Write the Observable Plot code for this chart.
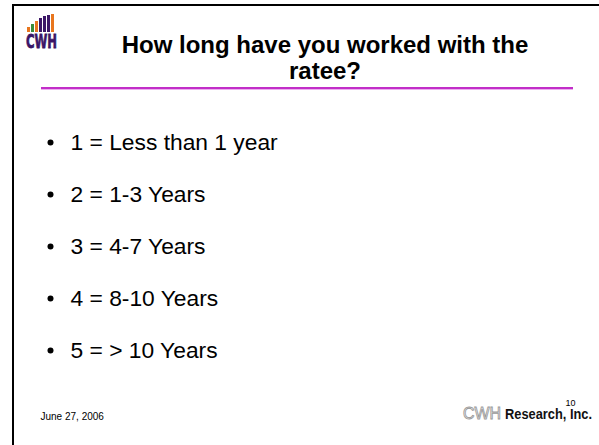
<!DOCTYPE html>
<html>
<head>
<meta charset="utf-8">
<script src="https://cdn.jsdelivr.net/npm/d3@7"></script>
<script src="https://cdn.jsdelivr.net/npm/@observablehq/plot@0.6"></script>
<style>
  html, body { margin: 0; padding: 0; background: #fff; }
  #slide { position: relative; width: 599px; height: 445px; overflow: hidden; background: #fff;
           font-family: Arial, "Liberation Sans", Helvetica, sans-serif; }
  #frame { position: absolute; left: 12px; top: 4px; width: 700px; height: 600px;
           border-top: 2px solid #000; border-left: 2px solid #000; box-sizing: border-box; }
  #underline { position: absolute; left: 41px; top: 86.5px; width: 532px; height: 2px; background: #c22ec8; }
  #underline2 { position: absolute; left: 41px; top: 88.5px; width: 532px; height: 1px; background: #ecaef0; }
  #chart { position: absolute; left: 0; top: 0; }
  #logo { position: absolute; left: 25px; top: 14px; }
  #logoText { position: absolute; left: 24px; top: 30px; }
  #brand { position: absolute; left: 460px; top: 403px; }
  svg { overflow: visible; }
</style>
</head>
<body>
<div id="slide">
  <div id="frame"></div>
  <div id="underline"></div>
  <div id="underline2"></div>
  <div id="chart"></div>
  <div id="logo"></div>
  <div id="logoText"></div>
  <div id="brand"></div>
</div>
<script>
// ---- data ----
const titleLines = ["How long have you worked with the", "ratee?"];
const bullets = [
  "1 = Less than 1 year",
  "2 = 1-3 Years",
  "3 = 4-7 Years",
  "4 = 8-10 Years",
  "5 = > 10 Years"
];
const footerDate = "June 27, 2006";
const slideNumber = "10";
const brandMark = "CWH";
const brandName = "Research, Inc.";
const logoLetters = "CWH";
const logoBarHeights = [5, 8, 11, 14, 16, 17, 18];
const logoBarColors = ["#e8761e", "#3b8c3a", "#e8761e", "#3c1767", "#3c1767", "#3c1767", "#e8761e"];

// ---- main slide chart ----
const font = "Arial, 'Liberation Sans', Helvetica, sans-serif";
const main = Plot.plot({
  width: 599,
  height: 445,
  margin: 0,
  style: { background: "transparent", fontFamily: font },
  x: { axis: null, domain: [0, 1] },
  y: { type: "point", domain: bullets, range: [140, 351], padding: 0, axis: null },
  marks: [
    Plot.text([titleLines.join("\n")], {
      frameAnchor: "top", dx: 25, dy: 33, lineAnchor: "top", lineHeight: 1.12,
      fontSize: 24, fontWeight: "bold", fill: "#000", textAnchor: "middle"
    }),
    Plot.dot(bullets, { y: d => d, frameAnchor: "left", dx: 50, r: 3, fill: "#000", stroke: null }),
    Plot.text(bullets, { y: d => d, frameAnchor: "left", dx: 70, textAnchor: "start",
      fontSize: 22.8, fill: "#000" }),
    Plot.text([footerDate], { frameAnchor: "bottom-left", dx: 40, dy: -26, textAnchor: "start",
      lineAnchor: "bottom", fontSize: 10, fill: "#000" }),
    Plot.text([slideNumber], { frameAnchor: "bottom-right", dx: -24, dy: -40, textAnchor: "end",
      lineAnchor: "bottom", fontSize: 9, fill: "#000" })
  ]
});
document.getElementById("chart").appendChild(main);

// ---- logo: a little bar chart ----
const logoData = logoBarHeights.map((h, i) => ({ i, h, c: logoBarColors[i] }));
const logo = Plot.plot({
  width: 32,
  height: 18,
  margin: 0,
  style: { background: "transparent" },
  x: { type: "band", domain: logoData.map(d => d.i), padding: 0.2, axis: null },
  y: { domain: [0, 18], axis: null },
  marks: [
    Plot.barY(logoData, { x: "i", y: "h", fill: d => d.c })
  ]
});
document.getElementById("logo").appendChild(logo);

// logo letters
const ls = d3.select("#logoText").append("svg").attr("width", 40).attr("height", 22);
ls.append("text")
  .attr("x", 2).attr("y", 18)
  .attr("textLength", 31).attr("lengthAdjust", "spacingAndGlyphs")
  .attr("font-family", "'DejaVu Sans', Arial, sans-serif")
  .attr("font-weight", "bold")
  .attr("font-size", 20)
  .attr("fill", "#3a1566").attr("stroke", "#3a1566").attr("stroke-width", 0.8)
  .text(logoLetters);

// brand mark at bottom right
const bs = d3.select("#brand").append("svg").attr("width", 138).attr("height", 22);
bs.append("text")
  .attr("x", 3).attr("y", 16)
  .attr("textLength", 38).attr("lengthAdjust", "spacingAndGlyphs")
  .attr("font-family", "Arial, 'Liberation Sans', sans-serif")
  .attr("font-size", 16)
  .attr("fill", "#fff").attr("stroke", "#9a9a9a").attr("stroke-width", 0.9)
  .text(brandMark);
bs.append("text")
  .attr("x", 45).attr("y", 16)
  .attr("textLength", 87).attr("lengthAdjust", "spacingAndGlyphs")
  .attr("font-family", "Arial, 'Liberation Sans', sans-serif")
  .attr("font-weight", "bold")
  .attr("font-size", 14)
  .attr("fill", "#111")
  .text(brandName);
</script>
</body>
</html>
